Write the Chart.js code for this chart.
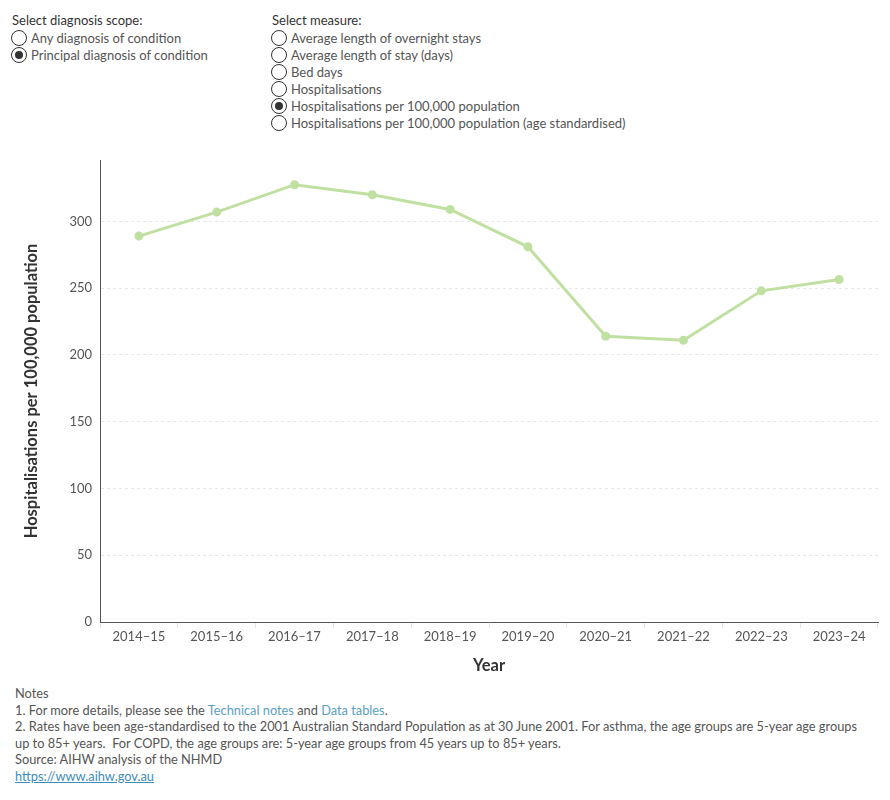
<!DOCTYPE html>
<html>
<head>
<meta charset="utf-8">
<script src="https://cdn.jsdelivr.net/npm/chart.js@4/dist/chart.umd.min.js"></script>
<style>
  body { margin: 0; background: #fff; font-family: Lato, "Noto Sans", sans-serif; color: #555; }
  .wrap { position: relative; width: 890px; height: 800px; }
  .ctrl { position: absolute; font-size: 13px; line-height: 17px; }
  .ctrl .head { color: #333; margin-bottom: 1px; }
  .opt { position: relative; padding-left: 19px; white-space: nowrap; }
  .opt::before { content: ''; position: absolute; left: -1px; top: 0px; width: 14px; height: 14px; border: 1px solid #333; border-radius: 50%; background: #fff; }
  .opt.on::after { content: ''; position: absolute; left: 3px; top: 4px; width: 8px; height: 8px; border-radius: 50%; background: #333; }
  #chartBox { position: absolute; left: 0; top: 150px; width: 890px; height: 530px; }
  .notes { position: absolute; left: 15px; top: 685px; font-size: 12.8px; line-height: 16.6px; white-space: nowrap; color: #555; }
  .notes a { color: #5aa0bf; text-decoration: none; }
  .notes a.url { color: #3f8cb8; text-decoration: underline; }
</style>
</head>
<body>
<div class="wrap">
  <div class="ctrl" style="left:12px; top:12px;">
    <div class="head">Select diagnosis scope:</div>
    <div class="opt">Any diagnosis of condition</div>
    <div class="opt on">Principal diagnosis of condition</div>
  </div>
  <div class="ctrl" style="left:272px; top:12px;">
    <div class="head">Select measure:</div>
    <div class="opt">Average length of overnight stays</div>
    <div class="opt">Average length of stay (days)</div>
    <div class="opt">Bed days</div>
    <div class="opt">Hospitalisations</div>
    <div class="opt on">Hospitalisations per 100,000 population</div>
    <div class="opt">Hospitalisations per 100,000 population (age standardised)</div>
  </div>
  <div id="chartBox"><canvas id="rateChart"></canvas></div>
  <div class="notes">
    Notes<br>
    1. For more details, please see the <a href="#">Technical notes</a> and <a href="#">Data tables</a>.<br>
    2. Rates have been age-standardised to the 2001 Australian Standard Population as at 30 June 2001. For asthma, the age groups are 5-year age groups<br>
    up to 85+ years.&nbsp; For COPD, the age groups are: 5-year age groups from 45 years up to 85+ years.<br>
    Source: AIHW analysis of the NHMD<br>
    <a class="url" href="#">https://www.aihw.gov.au</a>
  </div>
</div>
<script>
// Data
const years = ['2014–15', '2015–16', '2016–17', '2017–18', '2018–19', '2019–20', '2020–21', '2021–22', '2022–23', '2023–24'];
const ratePer100k = [289, 307, 327.5, 320, 309, 281, 214, 211, 248, 256.5];
const yTicks = [0, 50, 100, 150, 200, 250, 300];

const lineColor = '#c0e0a2';
const tickFont = { family: 'Lato, "Noto Sans", sans-serif', size: 13 };
const titleFont = { family: 'Lato, "Noto Sans", sans-serif', size: 16.5, weight: 'bold' };

const ctx = document.getElementById('rateChart').getContext('2d');
new Chart(ctx, {
    type: 'line',
    data: {
        labels: years,
        datasets: [{
            label: 'Hospitalisations per 100,000 population',
            data: ratePer100k,
            borderColor: lineColor,
            backgroundColor: lineColor,
            borderWidth: 3,
            pointRadius: 3,
            pointHoverRadius: 4,
            tension: 0
        }]
    },
    options: {
        responsive: true,
        maintainAspectRatio: false,
        animation: false,
        layout: { padding: { top: 10, right: 12, left: 0, bottom: 0 } },
        plugins: {
            legend: { display: false },
            tooltip: { enabled: false }
        },
        scales: {
            x: {
                offset: true,
                grid: {
                    offset: true,
                    drawOnChartArea: false,
                    drawTicks: true,
                    tickLength: 6,
                    color: '#e8e8e8'
                },
                border: { display: true, color: '#555', width: 1 },
                ticks: { color: '#555', font: tickFont, padding: 1, maxRotation: 0 },
                title: { display: true, text: 'Year', color: '#333', font: titleFont, padding: { top: 4, bottom: 4 } },
                afterFit: (scale) => { scale.height = 58; }
            },
            y: {
                min: 0,
                max: 346,
                grid: {
                    color: '#e6e6e6',
                    drawTicks: false
                },
                border: { display: true, color: '#555', width: 1, dash: [3, 3] },
                ticks: { color: '#555', font: tickFont, padding: 8, stepSize: 50 },
                afterBuildTicks: (scale) => {
                    scale.ticks = yTicks.map(v => ({ value: v }));
                },
                title: { display: true, text: 'Hospitalisations per 100,000 population', color: '#333', font: titleFont, padding: { top: 22, bottom: 0 } },
                afterFit: (scale) => {
                    scale.width = 100;
                    scale.paddingTop = 0;
                    scale.paddingBottom = 0;
                }
            }
        }
    }
});
</script>
</body>
</html>
